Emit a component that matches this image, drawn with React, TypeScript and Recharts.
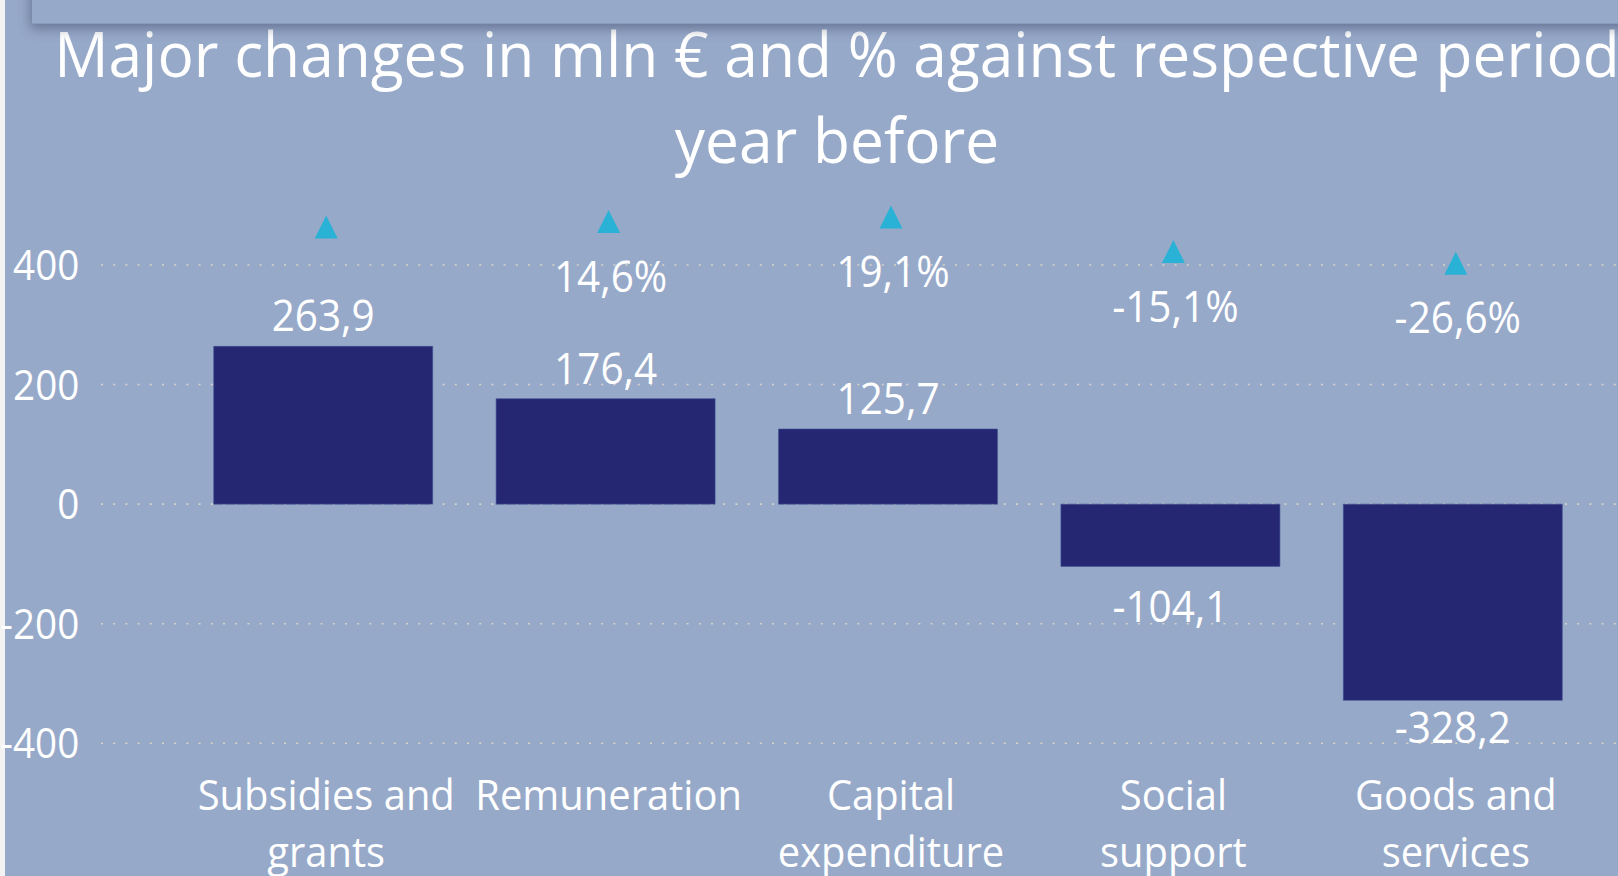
import { ComposedChart, Bar, Line, XAxis, YAxis, CartesianGrid, LabelList } from "recharts";

const CATEGORIES = ["Subsidies and grants", "Remuneration", "Capital expenditure", "Social support", "Goods and services"];
const CHANGE_MLN = [263.9, 176.4, 125.7, -104.1, -328.2];
const CHANGE_PCT = [9.2, 14.6, 19.1, -15.1, -26.6];
const AMOUNT_TICKS = [-400, -200, 0, 200, 400];
const TITLE_LINES = ["Major changes in mln € and % against respective period", "year before"];

const rows = CATEGORIES.map((category, i) => ({ category, amount: CHANGE_MLN[i], pct: CHANGE_PCT[i] }));

// page + plot geometry (Power BI visual, cropped on the right)
const W = 1618;
const H = 876;
const PLOT_TOP = 190;
const PLOT_BOTTOM = 743.3;
const AMT_DOMAIN: [number, number] = [-400, 525.4];
const PCT_DOMAIN: [number, number] = [-500.5, 45.7];
const NUDGE = 3.2; // PBI draws markers / category labels a hair right of the bar centre

const BG = "#97a9c9";
const NAVY = "#252773";
const CYAN = "#29b2d6";
const GRID = "#d8d4c6";
const FONT = "'Open Sans', 'Noto Sans', sans-serif";

const fmt = (v: number) => v.toFixed(1).replace(".", ",");

// used only to keep % labels from sitting on top of the amount labels
const amountY = (v: number) =>
  PLOT_TOP + ((AMT_DOMAIN[1] - v) / (AMT_DOMAIN[1] - AMT_DOMAIN[0])) * (PLOT_BOTTOM - PLOT_TOP);

// Segoe-ish narrow letterforms: squeeze Open Sans a little
function Squeezed({ x, y, size, anchor = "middle", sx = 0.92, children }: {
  x: number; y: number; size: number; anchor?: string; sx?: number; children: any;
}) {
  return (
    <text
      transform={`translate(${x} ${y}) scale(${sx} 1)`}
      textAnchor={anchor as "start" | "middle" | "end"}
      fontFamily={FONT} fontSize={size} fill="#ffffff"
    >
      {children}
    </text>
  );
}

function wrap(label: string, maxChars = 13) {
  const lines: string[] = [];
  let cur = "";
  for (const w of label.split(" ")) {
    const next = cur ? cur + " " + w : w;
    if (next.length > maxChars && cur) { lines.push(cur); cur = w; } else cur = next;
  }
  if (cur) lines.push(cur);
  return lines;
}

function CategoryTick(props: any) {
  const { x, y, payload } = props;
  return (
    <g>
      {wrap(String(payload?.value ?? "")).map((line, i) => (
        <Squeezed key={i} x={x + NUDGE} y={y + 66.7 + i * 56.7} size={42} sx={0.95}>{line}</Squeezed>
      ))}
    </g>
  );
}

function AmountTick(props: any) {
  const { x, y, payload } = props;
  return <Squeezed x={x - 21.7} y={y + 15} size={42} anchor="end">{payload?.value}</Squeezed>;
}

function AmountLabel(props: any) {
  const x = Number(props.x), y = Number(props.y), w = Number(props.width), h = Number(props.height);
  const v = Number(props.value);
  const top = Math.min(y, y + h), bottom = Math.max(y, y + h);
  const base = v >= 0 ? top - 15 : Math.min(bottom + 55.5, PLOT_BOTTOM);
  return <Squeezed x={x + w / 2} y={base} size={44}>{fmt(v)}</Squeezed>;
}

function PctLabel(props: any) {
  const x = Number(props.x), y = Number(props.y), v = Number(props.value);
  const base = y + 70;
  const amt = CHANGE_MLN[props.index];
  if (amt > 0 && base + 10 > amountY(amt) - 47) return null;
  return <Squeezed x={x + NUDGE + 2} y={base} size={44}>{fmt(v)}%</Squeezed>;
}

function Triangle(props: any) {
  const { cy, index } = props;
  const cx = props.cx + NUDGE;
  const s = 23;
  return <path key={index} d={`M${cx},${cy - s / 2} L${cx + s / 2},${cy + s / 2} L${cx - s / 2},${cy + s / 2} Z`} fill={CYAN} />;
}

export default function App() {
  return (
    <div style={{ position: "fixed", left: 0, top: 0, width: W, height: H, overflow: "hidden", background: "#f3f3f3" }}>
      <div style={{ position: "absolute", left: 5, top: 0, right: 0, bottom: 0, background: BG }} />
      <div style={{ position: "absolute", left: 0, top: 0 }}>
        <ComposedChart width={W} height={H} data={rows} barCategoryGap="11.3%"
          margin={{ top: PLOT_TOP, right: 0, bottom: 0, left: 0 }}>
          <CartesianGrid vertical={false} horizontalValues={AMOUNT_TICKS} stroke={GRID} strokeDasharray="2 10.2" strokeWidth={1.6} />
          <XAxis dataKey="category" height={H - PLOT_BOTTOM} interval={0} padding={{ left: 80.8, right: 24.2 }}
            axisLine={false} tickLine={false} tickSize={0} tickMargin={0} tick={<CategoryTick />} />
          <YAxis width={101} domain={AMT_DOMAIN} ticks={AMOUNT_TICKS} axisLine={false} tickLine={false}
            tickSize={0} tickMargin={0} tick={<AmountTick />} />
          <YAxis yAxisId="pct" orientation="right" hide domain={PCT_DOMAIN} />
          <Bar dataKey="amount" fill={NAVY} stroke="#4352939a" strokeWidth={1} isAnimationActive={false}>
            <LabelList dataKey="amount" content={<AmountLabel />} />
          </Bar>
          <Line yAxisId="pct" dataKey="pct" stroke="none" dot={(p: any) => <Triangle key={p.index} {...p} />}
            activeDot={false} isAnimationActive={false}>
            <LabelList dataKey="pct" content={<PctLabel />} />
          </Line>
        </ComposedChart>
      </div>
      <svg width={W} height={200} style={{ position: "absolute", left: 0, top: 0 }}>
        <Squeezed x={837} y={77} size={62} sx={0.975}>{TITLE_LINES[0]}</Squeezed>
        <Squeezed x={837} y={163} size={62} sx={0.975}>{TITLE_LINES[1]}</Squeezed>
      </svg>
      <div style={{
        position: "absolute", left: 32, top: -10, width: W, height: 32.7, background: BG,
        borderBottom: "1px solid #8a9cbc", boxShadow: "0 3px 12px 2px rgba(50,60,90,0.45)",
      }} />
    </div>
  );
}
